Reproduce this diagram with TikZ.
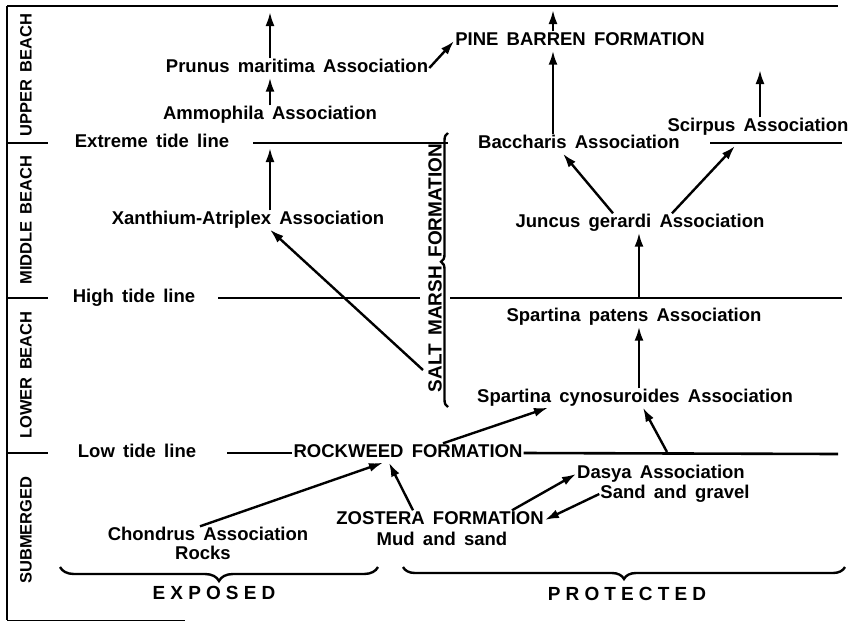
\documentclass[tikz,border=0pt]{standalone}
\usepackage{fontspec}
\setmainfont{Liberation Sans}[WordSpace=1.6]
\newfontfamily\spacedfont{Liberation Sans}[LetterSpace=27]
\usetikzlibrary{positioning,arrows.meta,decorations.pathreplacing}
\tikzset{
  assoc/.style={font=\bfseries\fontsize{18.5}{20}\selectfont,inner sep=1pt,text height=13pt,text depth=4pt},
  zone/.style={font=\bfseries\fontsize{16.5}{20}\selectfont,rotate=90,inner sep=0pt},
  tideline/.style={line width=2.6pt},
  succ/.style={line width=2.4pt,-{Latex[length=14pt,width=9pt]}},
  bracket/.style={line width=2.4pt,decorate,decoration={brace,amplitude=#1}},
}

\begin{document}
\begin{tikzpicture}[x=1pt,y=-1pt]
\useasboundingbox (0,0) rectangle (860,622);

% zones down the left side
\draw[line width=2.4pt] (7,6) -- (7,620);
\draw[line width=1pt] (7,620) -- (185,620);
\node[zone] (upper) at (26,75) {UPPER BEACH};
\node[zone] (middle) at (26,220) {MIDDLE BEACH};
\node[zone] (lower) at (26,375) {LOWER BEACH};
\node[zone] (subm) at (26,530) {SUBMERGED};

% tide lines
\node[assoc] (ext) at (152,143) {Extreme tide line};
\node[assoc] (high) at (134,298) {High tide line};
\node[assoc] (low) at (137,453) {Low tide line};
\node[assoc] (rock) at (408,453) {ROCKWEED FORMATION};
\draw[tideline] (7,6) -- (838,6);
\draw[tideline] (7,143) -- (48,143);
\draw[tideline] (253,143) -- (448,143);
\draw[tideline] (710,143) -- (842,143);
\draw[tideline] (7,298) -- (48,298);
\draw[tideline] (218,298) -- (420,298);
\draw[tideline] (450,298) -- (842,298);
\draw[tideline] (7,453) -- (48,453);
\draw[tideline] (227,453) -- (rock.west);
\draw[tideline] (rock.east) -- (838,454);

% associations
\node[assoc] (pru) at (297,68) {Prunus maritima Association};
\node[assoc] (amm) at (270,115) {Ammophila Association};
\node[assoc] (xan) at (248,220) {Xanthium-Atriplex Association};
\node[assoc] (pine) at (580,41) {PINE BARREN FORMATION};
\node[assoc] (bac) at (579,144) {Baccharis Association};
\node[assoc] (sci) at (758,127) {Scirpus Association};
\node[assoc] (jun) at (640,223) {Juncus gerardi Association};
\node[assoc] (spat) at (634,317) {Spartina patens Association};
\node[assoc] (scyn) at (635,398) {Spartina cynosuroides Association};
\node[assoc] (dasya) at (661,474) {Dasya Association};
\node[assoc] (sandg) at (675,494) {Sand and gravel};
\node[assoc] (zos) at (440,520) {ZOSTERA FORMATION};
\node[assoc] (mud) at (442,541) {Mud and sand};
\node[assoc] (chon) at (208,536) {Chondrus Association};
\node[assoc] (rocks) at (203,555) {Rocks};

% salt marsh brace
\node[font=\bfseries\fontsize{19}{20}\selectfont,rotate=90,inner sep=0pt] (salt) at (435,268) {SALT MARSH FORMATION};
\draw[bracket=7pt,decoration={aspect=0.53}] (448,407) -- (448,133);

% exposed / protected
\draw[bracket=14pt] (378,567) -- (60,567);
\draw[bracket=12pt] (845,567) -- (403,567);
\node[font=\spacedfont\bfseries\fontsize{19}{20}\selectfont] (expo) at (214,593) {EXPOSED};
\node[font=\spacedfont\bfseries\fontsize{19}{20}\selectfont] (prot) at (627,594) {PROTECTED};

% successions
\coordinate (ptop) at (270,12);
\coordinate (xtop) at (270,148);
\coordinate (salt0) at (423,370);
\coordinate (pinetop) at (553,10);
\coordinate (scitop) at (760,70);
\coordinate (scibase) at (735,146);
\coordinate (hjun) at (639,297);
\coordinate (lscyn) at (667,452);
\draw[succ] (amm.north) -- (amm.north |- pru.south);
\draw[succ] (pru.north -| amm.north) -- (ptop);
\draw[succ] (pru.east) -- (pine.west);
\draw[succ] (xan.north -| amm.north) -- (xtop);
\draw[succ] (salt0) -- (xan.south -| xtop);
\draw[succ] (bac.north -| pinetop) -- (pine.south -| pinetop);
\draw[succ] (pine.north -| pinetop) -- (pinetop);
\draw[succ] (sci.north -| scitop) -- (scitop);
\draw[succ] ([xshift=-27pt]jun.north) -- ([xshift=-16pt]bac.south);
\draw[succ] ([xshift=32pt]jun.north) -- (scibase);
\draw[succ] (hjun) -- (jun.south -| hjun);
\draw[succ] (scyn.north -| hjun) -- (spat.south -| hjun);
\draw[succ] ([xshift=35pt]rock.north) -- ([xshift=-87pt]scyn.south);
\draw[succ] (lscyn) -- ([xshift=8pt]scyn.south);
\draw[succ] ([xshift=-8pt]chon.north) -- ([xshift=-25pt]rock.south);
\draw[succ] ([xshift=-27pt]zos.north) -- ([xshift=-19pt]rock.south);
\draw[succ] ([xshift=72pt]zos.north) -- (dasya.west);
\draw[succ] (sandg.west) -- (zos.east);

\end{tikzpicture}
\end{document}
